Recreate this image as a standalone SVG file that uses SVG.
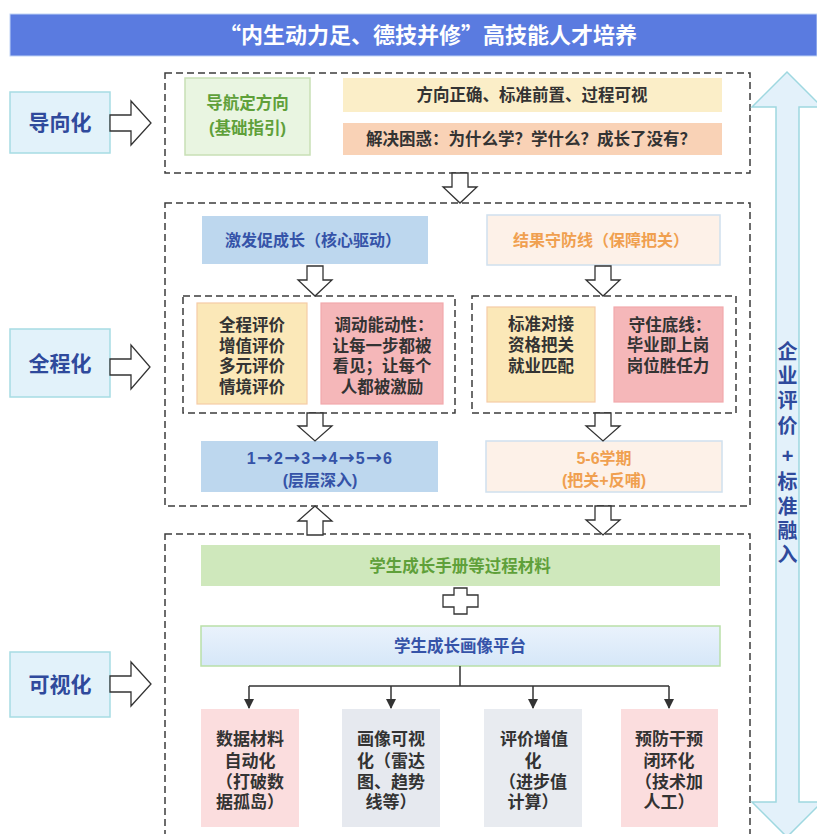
<svg xmlns="http://www.w3.org/2000/svg" width="817" height="834" viewBox="0 0 817 834">
<style>
.t{font-family:"Liberation Sans","Noto Sans CJK SC",sans-serif;font-weight:700;text-anchor:middle;}
.cjk{font-family:"Noto Sans CJK SC","Noto Sans",sans-serif;}
.arr{font-family:"DejaVu Sans",sans-serif;font-size:19px;}
.dash{fill:none;stroke:#3c3c3c;stroke-width:1.5;stroke-dasharray:7 4;}
.hollow{fill:#fff;stroke:#333;stroke-width:1.3;}
.lbl{fill:#E2F2FA;stroke:#A6DCE3;stroke-width:1.5;}
.navy{fill:#2F4A9C;}
.blue{fill:#3553A8;}
.green{fill:#5FA03A;}
.orange{fill:#F0A050;}
.dark{fill:#333;}
.line{fill:none;stroke:#333;stroke-width:1.5;}
</style>
<defs>
<marker id="ah" viewBox="0 0 10 10" refX="9" refY="5" markerWidth="10" markerHeight="10" markerUnits="userSpaceOnUse" orient="auto">
<path d="M0,0 L10,5 L0,10 Z" fill="#333"/>
</marker>
<linearGradient id="gblue" x1="0" y1="0" x2="0" y2="1">
<stop offset="0" stop-color="#EAF2FC"/>
<stop offset="1" stop-color="#D6E7F8"/>
</linearGradient>
</defs>
<rect width="817" height="834" fill="#fff"/>

<g id="header">
<rect x="10" y="14" width="807" height="42" fill="#5A7BE0" stroke="#BFD3F5" stroke-width="1"/>
<text class="t cjk" x="428" y="43" font-size="22" fill="#fff">“内生动力足、德技并修”高技能人才培养</text>
</g>

<g id="label-daoxiang">
<rect class="lbl" x="10" y="92" width="100" height="61"/>
<text class="t navy" x="60" y="130" font-size="21">导向化</text>
</g>
<g id="label-quancheng">
<rect class="lbl" x="10" y="329" width="100" height="68"/>
<text class="t navy" x="60" y="371" font-size="21">全程化</text>
</g>
<g id="label-keshi">
<rect class="lbl" x="10" y="652" width="100" height="65"/>
<text class="t navy" x="60" y="692" font-size="21">可视化</text>
</g>

<g id="frame-top"><rect class="dash" x="165" y="73" width="585" height="100"/></g>
<g id="frame-mid"><rect class="dash" x="165" y="203" width="585" height="303"/></g>
<g id="frame-mid-left"><rect class="dash" x="183" y="296" width="272" height="117"/></g>
<g id="frame-mid-right"><rect class="dash" x="472" y="296" width="264" height="117"/></g>
<g id="frame-bottom"><rect class="dash" x="165" y="534" width="585" height="320"/></g>

<g id="n-daohang">
<rect x="185" y="78" width="125" height="77" fill="#E9F5E1" stroke="#C8DFB5" stroke-width="1.5"/>
<text class="t green" font-size="16.5"><tspan x="247.5" y="109">导航定方向</tspan><tspan x="247.5" y="134">(基础指引)</tspan></text>
</g>
<g id="n-fangxiang">
<rect x="343" y="78" width="379" height="34" fill="#FBEEC8"/>
<text class="t dark" x="532" y="101" font-size="16.5">方向正确、标准前置、过程可视</text>
</g>
<g id="n-jiejue">
<rect x="343" y="123" width="379" height="32" fill="#F9D2B6"/>
<text class="t dark" x="531" y="145" font-size="16.5">解决困惑：为什么学？学什么？成长了没有？</text>
</g>

<g id="n-jifa">
<rect x="202" y="216" width="226" height="48" fill="#BDD7EE"/>
<text class="t blue" x="313" y="246" font-size="16">激发促成长（核心驱动）</text>
</g>
<g id="n-jieguo">
<rect x="487" y="215" width="233" height="50" fill="#FDF1E8" stroke="#CFE0EE" stroke-width="1.5"/>
<text class="t orange" x="601" y="246" font-size="16">结果守防线（保障把关）</text>
</g>

<g id="n-quancheng">
<rect x="197" y="303" width="110" height="101" fill="#FBE8B8" stroke="#F5CBA5" stroke-width="1.2"/>
<text class="t dark" font-size="16.5"><tspan x="252" y="331">全程评价</tspan><tspan x="252" y="352">增值评价</tspan><tspan x="252" y="372">多元评价</tspan><tspan x="252" y="393">情境评价</tspan></text>
</g>
<g id="n-tiaodong">
<rect x="321" y="303" width="122" height="101" fill="#F5B7B9" stroke="#F2A9AC" stroke-width="1.2"/>
<text class="t dark" font-size="16.5"><tspan x="384" y="331">调动能动性：</tspan><tspan x="382" y="352">让每一步都被</tspan><tspan x="382" y="372">看见；让每个</tspan><tspan x="382" y="393">人都被激励</tspan></text>
</g>
<g id="n-biaozhun">
<rect x="487" y="307" width="108" height="95" fill="#FBE8B8" stroke="#F5CBA5" stroke-width="1.2"/>
<text class="t dark" font-size="16.5"><tspan x="541" y="330">标准对接</tspan><tspan x="541" y="351">资格把关</tspan><tspan x="541" y="372">就业匹配</tspan></text>
</g>
<g id="n-shouzhu">
<rect x="614" y="307" width="109" height="95" fill="#F5B7B9" stroke="#F2A9AC" stroke-width="1.2"/>
<text class="t dark" font-size="16.5"><tspan x="670" y="331">守住底线：</tspan><tspan x="668" y="351">毕业即上岗</tspan><tspan x="668" y="372">岗位胜任力</tspan></text>
</g>

<g id="n-steps">
<rect x="201" y="441" width="237" height="51" fill="#BDD7EE"/>
<text class="t blue" font-size="16"><tspan x="320" y="464" letter-spacing="1.2">1<tspan class="arr">→</tspan>2<tspan class="arr">→</tspan>3<tspan class="arr">→</tspan>4<tspan class="arr">→</tspan>5<tspan class="arr">→</tspan>6</tspan><tspan x="320" y="486">(层层深入)</tspan></text>
</g>
<g id="n-xueqi">
<rect x="486" y="441" width="236" height="51" fill="#FDF1E8" stroke="#CFE0EE" stroke-width="1.5"/>
<text class="t orange" font-size="16"><tspan x="604" y="464">5-6学期</tspan><tspan x="604" y="486">(把关+反哺)</tspan></text>
</g>

<g id="n-shouce">
<rect x="201" y="545" width="519" height="41" fill="#CFE8BC"/>
<text class="t green" x="460" y="572" font-size="16.5">学生成长手册等过程材料</text>
</g>
<g id="plus">
<path class="hollow" d="M454,588 H467 V595 H478 V607 H467 V614 H454 V607 H443 V595 H454 Z"/>
</g>
<g id="n-huaxiang">
<rect x="201" y="626" width="519" height="40" fill="url(#gblue)" stroke="#B9DFA8" stroke-width="1.5"/>
<text class="t blue" x="460" y="652" font-size="16.5">学生成长画像平台</text>
</g>

<g id="n-shuju">
<rect x="201" y="709" width="98" height="118" fill="#FBDDDE"/>
<text class="t dark" font-size="17"><tspan x="250" y="745">数据材料</tspan><tspan x="250" y="767">自动化</tspan><tspan x="250" y="788">（打破数</tspan><tspan x="250" y="808">据孤岛）</tspan></text>
</g>
<g id="n-keshihua">
<rect x="342" y="709" width="98" height="118" fill="#E6E9EF"/>
<text class="t dark" font-size="17"><tspan x="391" y="745">画像可视</tspan><tspan x="391" y="767">化（雷达</tspan><tspan x="391" y="788">图、趋势</tspan><tspan x="391" y="808">线等）</tspan></text>
</g>
<g id="n-zengzhi">
<rect x="484" y="709" width="98" height="118" fill="#E8EBF0"/>
<text class="t dark" font-size="17"><tspan x="534" y="745">评价增值</tspan><tspan x="533" y="767">化</tspan><tspan x="533" y="788">（进步值</tspan><tspan x="533" y="808">计算）</tspan></text>
</g>
<g id="n-yufang">
<rect x="621" y="709" width="97" height="118" fill="#FBDDDE"/>
<text class="t dark" font-size="17"><tspan x="669" y="745">预防干预</tspan><tspan x="669" y="767">闭环化</tspan><tspan x="669" y="788">（技术加</tspan><tspan x="669" y="808">人工）</tspan></text>
</g>

<g id="side-arrow">
<path d="M787,72 L822,107 L799,107 L799,802 L822,802 L787,837 L752,802 L776,802 L776,107 L752,107 Z" fill="#E3F1FA" stroke="#9FD8E0" stroke-width="1.5"/>
<text class="t navy" font-size="20"><tspan x="787.5" y="359">企</tspan><tspan x="787.5" y="383">业</tspan><tspan x="787.5" y="408">评</tspan><tspan x="787.5" y="433">价</tspan><tspan x="787.5" y="463">+</tspan><tspan x="787.5" y="489">标</tspan><tspan x="787.5" y="514">准</tspan><tspan x="787.5" y="538">融</tspan><tspan x="787.5" y="562">入</tspan></text>
</g>

<g id="connectors">
<polygon class="hollow" points="110,115 131,115 131,101 151,123 131,145 131,131 110,131"/>
<polygon class="hollow" points="110,359 131,359 131,345 150,367 131,389 131,375 110,375"/>
<polygon class="hollow" points="110,676 131,676 131,662 151,684 131,706 131,692 110,692"/>
<polygon class="hollow" points="452,173 468,173 468,187 477,187 460,203 443,187 452,187"/>
<polygon class="hollow" points="307,266 323,266 323,280 332,280 315,296 298,280 307,280"/>
<polygon class="hollow" points="595,266 611,266 611,280 620,280 603,296 586,280 595,280"/>
<polygon class="hollow" points="307,413 323,413 323,426 332,426 315,441 298,426 307,426"/>
<polygon class="hollow" points="595,413 611,413 611,426 620,426 603,441 586,426 595,426"/>
<polygon class="hollow" points="315,506 332,521 323,521 323,535 307,535 307,521 298,521"/>
<polygon class="hollow" points="595,506 611,506 611,520 620,520 603,535 586,520 595,520"/>
<path class="line" d="M460,666 V686 M249,686 H669"/>
<path class="line" d="M249,686 V708" marker-end="url(#ah)"/>
<path class="line" d="M391,686 V708" marker-end="url(#ah)"/>
<path class="line" d="M533,686 V708" marker-end="url(#ah)"/>
<path class="line" d="M669,686 V708" marker-end="url(#ah)"/>
</g>
</svg>
